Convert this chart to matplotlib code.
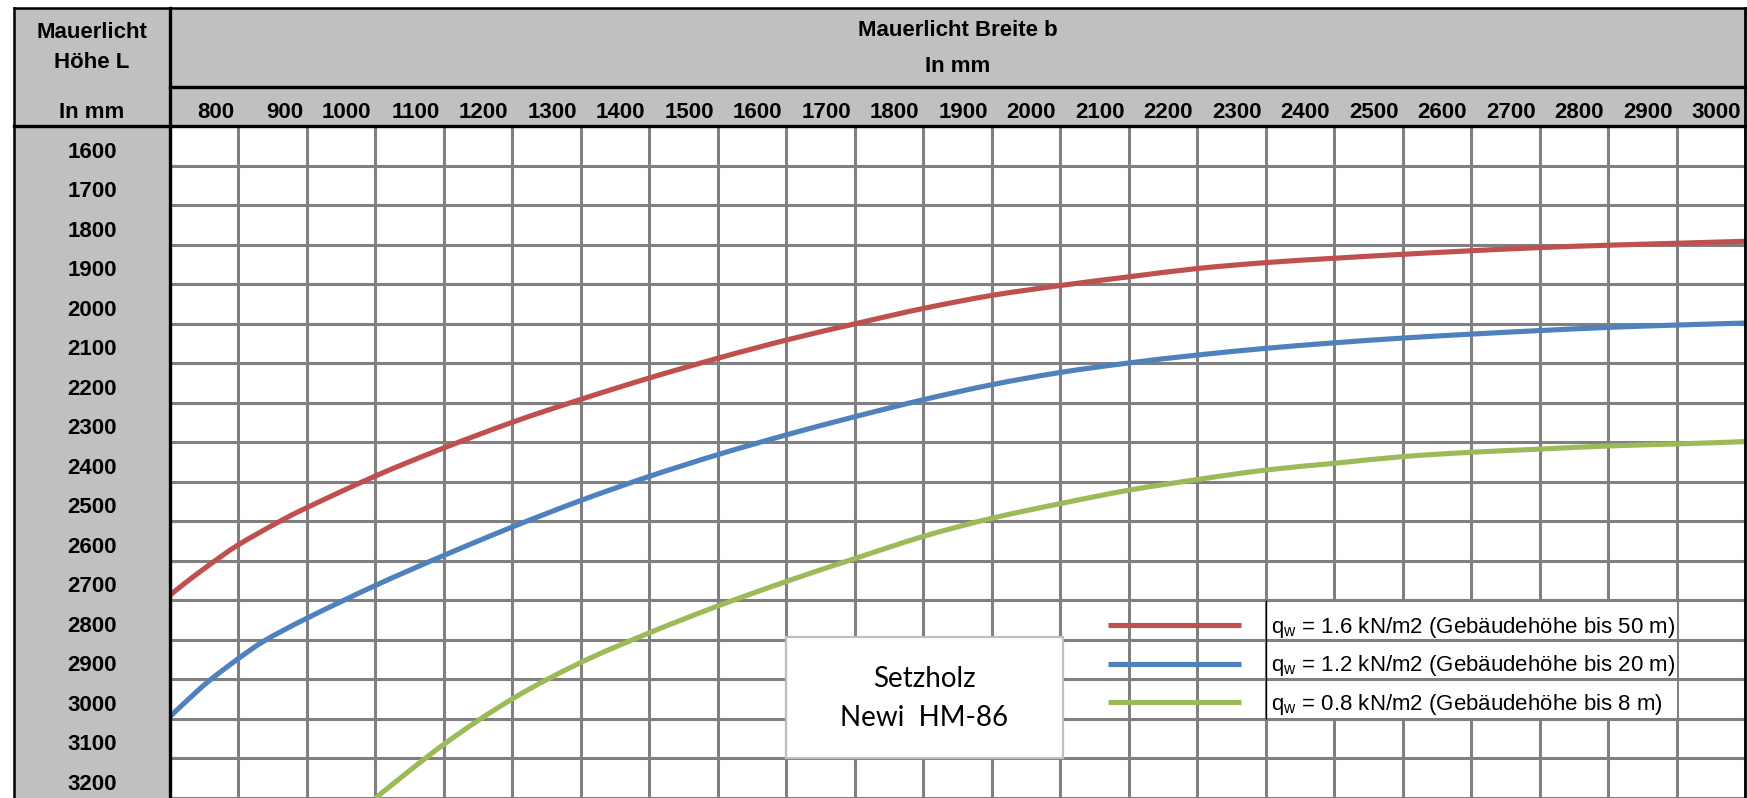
import matplotlib
matplotlib.use("Agg")
import matplotlib.pyplot as plt
from matplotlib.patches import Rectangle, PathPatch
from matplotlib.lines import Line2D
from matplotlib.path import Path
import matplotlib.transforms as mtransforms

plt.rcParams['font.family'] = ['Liberation Sans', 'DejaVu Sans']
plt.rcParams['mathtext.fontset'] = 'custom'
plt.rcParams['mathtext.rm'] = 'Liberation Sans'
plt.rcParams['mathtext.it'] = 'Liberation Sans:italic'
plt.rcParams['mathtext.bf'] = 'Liberation Sans:bold'

# ---------------- data ----------------
x_labels = [800, 900, 1000, 1100, 1200, 1300, 1400, 1500, 1600, 1700, 1800, 1900,
            2000, 2100, 2200, 2300, 2400, 2500, 2600, 2700, 2800, 2900, 3000]
y_labels = [1600, 1700, 1800, 1900, 2000, 2100, 2200, 2300, 2400, 2500, 2600,
            2700, 2800, 2900, 3000, 3100, 3200]

b_red = [700, 722, 763, 800, 858, 900, 1000, 1100, 1200, 1300, 1400, 1500, 1600, 1700, 1800,
         1900, 2000, 2100, 2200, 2300, 2400, 2500, 2600, 2700, 2800, 2900, 3000]
L_red = [2687, 2656, 2603, 2559, 2502, 2465, 2385, 2314, 2249, 2191, 2137, 2087, 2041, 2000, 1961,
         1928, 1903, 1881, 1860, 1845, 1834, 1824, 1815, 1807, 1801, 1796, 1791]

b_blue = [700, 722, 756, 800, 839, 900, 1000, 1100, 1200, 1300, 1400, 1500, 1600, 1700, 1800,
          1900, 2000, 2100, 2200, 2300, 2400, 2500, 2600, 2700, 2800, 2900, 3000]
L_blue = [2994, 2958, 2905, 2847, 2801, 2745, 2662, 2586, 2514, 2447, 2386, 2331, 2281, 2235, 2192,
          2154, 2123, 2099, 2079, 2062, 2048, 2036, 2026, 2017, 2009, 2003, 1998]

b_green = [1000, 1100, 1200, 1300, 1400, 1500, 1600, 1700, 1800, 1900, 2000, 2100, 2200,
           2300, 2400, 2500, 2600, 2700, 2800, 2900, 3000]
L_green = [3200, 3064, 2949, 2857, 2782, 2714, 2652, 2594, 2538, 2492, 2455, 2421, 2394,
           2370, 2353, 2336, 2325, 2317, 2309, 2304, 2298]

series_labels = [r'q$_{\mathrm{w}}$ = 1.6 kN/m2 (Gebäudehöhe bis 50 m)',
                 r'q$_{\mathrm{w}}$ = 1.2 kN/m2 (Gebäudehöhe bis 20 m)',
                 r'q$_{\mathrm{w}}$ = 0.8 kN/m2 (Gebäudehöhe bis 8 m)']
colors = ['#C0504D', '#4F81BD', '#9BBB59']

# ---------------- layout ----------------
W, H = 1747, 798
fig = plt.figure(figsize=(W / 100, H / 100), dpi=100)
fig.patch.set_facecolor('white')

GRAY = '#C0C0C0'
GRID = '#808080'
FS = 16
x_left, x_sep, x_right = 14, 170, 1745
y_top, y_mid, y_head = 8, 87, 126.3

# background layer (pixel coordinates)
bg = fig.add_axes([0, 0, 1, 1], zorder=0)
bg.set_xlim(0, W)
bg.set_ylim(H, 0)
bg.axis('off')
bg.add_patch(Rectangle((x_left, y_top), x_right - x_left, y_head - y_top, color=GRAY, lw=0))
bg.add_patch(Rectangle((x_left, y_top), x_sep - x_left, H - y_top, color=GRAY, lw=0))

# main chart axes
ax = fig.add_axes([x_sep / W, 0, (x_right - x_sep) / W, (H - y_head) / H], zorder=1)
ax.set_facecolor('white')
ax.set_xlim(700, 3000)
ax.set_ylim(3193, 1500)
ax.set_xticks(range(700, 3001, 100))
ax.set_yticks(range(1500, 3201, 100))
ax.grid(True, color=GRID, lw=2.2)
ax.tick_params(length=0, labelbottom=False, labelleft=False)
for s in ax.spines.values():
    s.set_visible(False)


def smooth_path(xs, ys):
    """Smoothed line (Catmull-Rom style Bezier) through the given data points."""
    pts = list(zip(xs, ys))
    n = len(pts)
    verts = [pts[0]]
    codes = [Path.MOVETO]
    for i in range(n - 1):
        p0 = pts[i - 1] if i > 0 else pts[i]
        p1 = pts[i]
        p2 = pts[i + 1]
        p3 = pts[i + 2] if i + 2 < n else pts[i + 1]
        c1 = (p1[0] + (p2[0] - p0[0]) / 6, p1[1] + (p2[1] - p0[1]) / 6)
        c2 = (p2[0] - (p3[0] - p1[0]) / 6, p2[1] - (p3[1] - p1[1]) / 6)
        verts += [c1, c2, p2]
        codes += [Path.CURVE4] * 3
    return Path(verts, codes)


handles = []
for bx, Ly, c in zip([b_red, b_blue, b_green], [L_red, L_blue, L_green], colors):
    pp = PathPatch(smooth_path(bx, Ly), fill=False, edgecolor=c, lw=3.7,
                   capstyle='butt', joinstyle='round', transform=ax.transData, zorder=3)
    ax.add_patch(pp)
    handles.append(Line2D([], [], color=c, lw=3.7, solid_capstyle='butt'))

# legend text cells (white, merged cells with horizontal borders)
ax.add_patch(Rectangle((2300, 2700), 600, 300, facecolor='white', edgecolor='none', zorder=2))
ax.hlines([2700, 2800, 2900, 3000], 2300, 2900, color=GRID, lw=2.2, zorder=2.1)
ax.vlines([2300], 2700, 3000, color='black', lw=1.0, zorder=2.2)

leg = ax.legend(handles, series_labels, loc='center left',
                bbox_to_anchor=(1108 / W, 1 - 666 / H), bbox_transform=fig.transFigure,
                frameon=False, fontsize=FS, handlelength=6.0, handletextpad=1.35,
                labelspacing=0.6, borderpad=0, borderaxespad=0)
leg.set_zorder(4)

# x labels (top header), right-aligned at column edge
trans_x = mtransforms.offset_copy(ax.get_xaxis_transform(), fig=fig, x=-4, y=14.3, units='dots')
for v in x_labels:
    ax.text(v, 1.0, str(v), transform=trans_x, ha='right', va='center',
            fontsize=FS, fontweight='bold', clip_on=False)

# y labels (left column), centered in column, slightly above the row line
trans_y = mtransforms.offset_copy(
    mtransforms.blended_transform_factory(fig.transFigure, ax.transData),
    fig=fig, x=0, y=13.5, units='dots')
for v in y_labels:
    ax.text(92 / W, v, str(v), transform=trans_y, ha='center', va='center',
            fontsize=FS, fontweight='bold', clip_on=False)

# overlay: borders, header text, text box
top = fig.add_axes([0, 0, 1, 1], zorder=5)
top.set_xlim(0, W)
top.set_ylim(H, 0)
top.axis('off')
top.patch.set_alpha(0)

blk = dict(color='black', solid_capstyle='projecting')
top.plot([x_left, x_right], [y_top, y_top], lw=1.8, **blk)
top.plot([x_left, x_left], [y_top, H], lw=1.8, **blk)
top.plot([x_right, x_right], [y_top, H], lw=2.0, **blk)
top.plot([x_sep, x_sep], [y_top, H], lw=2.4, **blk)
top.plot([x_sep, x_right], [y_mid, y_mid], lw=2.4, **blk)
top.plot([x_left, x_right], [y_head, y_head], lw=2.4, **blk)

hdr = dict(fontsize=FS, fontweight='bold', ha='center', va='center')
top.text(92, 32, 'Mauerlicht', **hdr)
top.text(92, 63, 'Höhe L', **hdr)
top.text(92, 112, 'In mm', **hdr)
top.text(958, 30, 'Mauerlicht Breite b', **hdr)
top.text(958, 67, 'In mm', **hdr)

top.add_patch(Rectangle((786, 637), 277, 121, facecolor='white', edgecolor='#BFBFBF', lw=1.6))
box = dict(fontsize=20, family=['Lato', 'DejaVu Sans'], ha='center', va='center')
top.text(924.5, 679, 'Setzholz', **box)
top.text(924.5, 718, 'Newi  HM-86', **box)

fig.savefig('out.png', dpi=100)
